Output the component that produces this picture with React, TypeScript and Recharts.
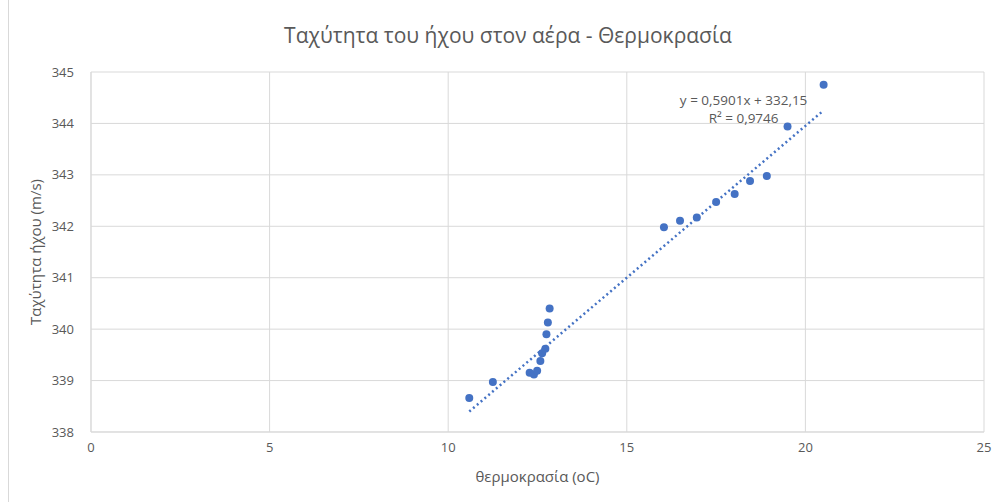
import React from 'react';
import {
  ScatterChart,
  Scatter,
  XAxis,
  YAxis,
  CartesianGrid,
  ReferenceDot,
  Label,
} from 'recharts';

// temperature (oC) and speed of sound (m/s)
const temperature = [
  10.59, 11.25, 12.28, 12.4, 12.49, 12.58, 12.63, 12.72, 12.75, 12.79, 12.84,
  16.04, 16.49, 16.96, 17.5, 18.02, 18.45, 18.92, 19.5, 20.51,
];
const speed = [
  338.66, 338.97, 339.15, 339.12, 339.19, 339.38, 339.53, 339.62, 339.9, 340.13, 340.4,
  341.98, 342.11, 342.17, 342.47, 342.63, 342.88, 342.98, 343.94, 344.75,
];

const xTicks = [0, 5, 10, 15, 20, 25];
const yTicks = [338, 339, 340, 341, 342, 343, 344, 345];

// linear trendline as printed on the chart
const trendSlope = 0.5901;
const trendIntercept = 332.15;
const trendRange = [10.59, 20.51];
const equationLines = ['y = 0,5901x + 332,15', 'R² = 0,9746'];
const equationAnchor = { x: 18.27, y: 344.45 };

const title = 'Ταχύτητα του ήχου στον αέρα - Θερμοκρασία';
const xTitle = 'θερμοκρασία (oC)';
const yTitle = 'Ταχύτητα ήχου (m/s)';

const points = temperature.map((t, i) => ({ x: t, y: speed[i] }));
const trendData = trendRange.map((x) => ({ x, y: trendSlope * x + trendIntercept }));

const BLUE = '#4472C4';
const TEXT = '#595959';
const GRID = '#d9d9d9';
const FONT = '"Open Sans", "Liberation Sans", sans-serif';

export default function App() {
  return (
    <div style={{ position: 'absolute', left: 0, top: 0, width: 1000, height: 502, background: '#fff', fontFamily: FONT }}>
      <div style={{ position: 'absolute', left: 8, top: 0, width: 1, height: 502, background: GRID }} />
      <div
        style={{
          position: 'absolute',
          left: 8,
          top: 21,
          width: 1000,
          textAlign: 'center',
          fontSize: 21,
          color: TEXT,
          lineHeight: '28px',
        }}
      >
        {title}
      </div>
      <ScatterChart width={1000} height={502} margin={{ top: 72, right: 16, bottom: 20, left: 31 }}>
        <CartesianGrid stroke={GRID} strokeWidth={1} />
        <XAxis
          type="number"
          dataKey="x"
          domain={[0, 25]}
          ticks={xTicks}
          height={50}
          axisLine={{ stroke: GRID }}
          tickLine={false}
          tickMargin={5}
          tick={{ fontSize: 13, fill: TEXT, fontFamily: FONT }}
        >
          <Label
            content={({ viewBox }: any) => (
              <text
                x={viewBox.x + viewBox.width / 2}
                y={478}
                textAnchor="middle"
                dominantBaseline="middle"
                fontSize={15}
                fill={TEXT}
                fontFamily={FONT}
              >
                {xTitle}
              </text>
            )}
          />
        </XAxis>
        <YAxis
          type="number"
          dataKey="y"
          domain={[338, 345]}
          ticks={yTicks}
          width={60}
          axisLine={{ stroke: GRID }}
          tickLine={false}
          tickMargin={11}
          tick={{ fontSize: 13, fill: TEXT, fontFamily: FONT }}
        >
          <Label
            content={({ viewBox }: any) => {
              const cx = 37;
              const cy = viewBox.y + viewBox.height / 2;
              return (
                <text
                  x={cx}
                  y={cy}
                  transform={`rotate(-90 ${cx} ${cy})`}
                  textAnchor="middle"
                  dominantBaseline="middle"
                  fontSize={15}
                  fill={TEXT}
                  fontFamily={FONT}
                >
                  {yTitle}
                </text>
              );
            }}
          />
        </YAxis>
        <Scatter
          data={points}
          fill={BLUE}
          isAnimationActive={false}
          shape={(p: any) => <circle cx={p.cx} cy={p.cy} r={4} fill={BLUE} />}
        />
        <Scatter
          data={trendData}
          isAnimationActive={false}
          line={{ stroke: BLUE, strokeWidth: 2.5, strokeDasharray: '2 3' }}
          shape={() => <g />}
        />
        <ReferenceDot
          x={equationAnchor.x}
          y={equationAnchor.y}
          r={1}
          fill="none"
          stroke="none"
          label={({ viewBox }: any) => (
            <text
              x={viewBox.x + viewBox.width / 2}
              y={viewBox.y + viewBox.height / 2 + 5}
              textAnchor="middle"
              fontSize={13.5}
              fill={TEXT}
              fontFamily={FONT}
            >
              <tspan x={viewBox.x + viewBox.width / 2}>{equationLines[0]}</tspan>
              <tspan x={viewBox.x + viewBox.width / 2} dy={18}>
                {equationLines[1]}
              </tspan>
            </text>
          )}
        />
      </ScatterChart>
    </div>
  );
}
